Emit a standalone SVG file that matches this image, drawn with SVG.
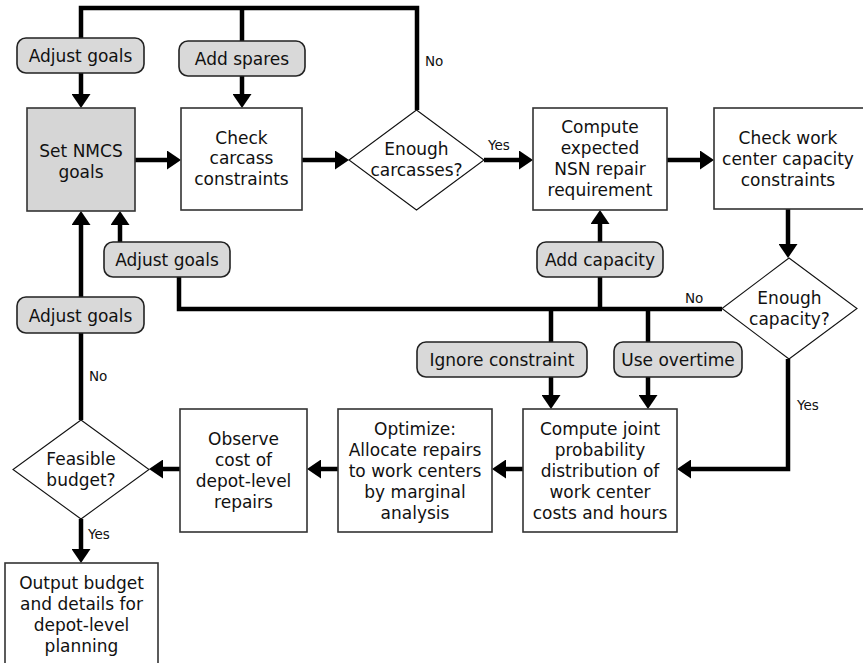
<svg xmlns="http://www.w3.org/2000/svg" width="863" height="663" viewBox="0 0 863 663">
  <style>
    text { font-family: "DejaVu Sans", "Open Sans", sans-serif; fill: #111; }
    .t { font-size: 17px; text-anchor: middle; }
    .lbl { font-size: 13.5px; }
    .box { fill: #ffffff; stroke: #333; stroke-width: 1.6; }
    .box.shade { fill: #d6d6d6; }
    .pill { fill: #d9d9d9; stroke: #222; stroke-width: 1.6; }
    .dia { fill: #ffffff; stroke: #111; stroke-width: 1.1; }
    .wire { fill: none; stroke: #000; stroke-width: 4.5; stroke-linejoin: miter; }
    .arrow { marker-end: url(#head); }
  </style>
  <defs>
    <marker id="head" markerUnits="userSpaceOnUse" markerWidth="15" markerHeight="19" refX="8" refY="9.5" orient="auto">
      <path d="M0,0 L14,9.5 L0,19 Z" fill="#000"/>
    </marker>
  </defs>

  <rect width="863" height="663" fill="#ffffff"/>

  <!-- connectors -->
  <g id="connectors">
    <path class="wire" d="M417,110 V8 H81 V38"/>
    <path class="wire" d="M242,8 V41"/>
    <path class="wire arrow" d="M81,73 V102"/>
    <path class="wire arrow" d="M242,76 V102"/>
    <path class="wire arrow" d="M135,160 H175"/>
    <path class="wire arrow" d="M302,160 H343"/>
    <path class="wire arrow" d="M484,160 H527"/>
    <path class="wire arrow" d="M667,160 H708"/>
    <path class="wire arrow" d="M788,209 V252"/>
    <path class="wire" d="M722,309 H179 V277"/>
    <path class="wire" d="M600,309 V277"/>
    <path class="wire" d="M551,309 V342"/>
    <path class="wire" d="M648,309 V342"/>
    <path class="wire arrow" d="M120,242 V217"/>
    <path class="wire arrow" d="M600,242 V216"/>
    <path class="wire arrow" d="M551,377 V403"/>
    <path class="wire arrow" d="M648,377 V403"/>
    <path class="wire arrow" d="M788,359 V469 H683"/>
    <path class="wire arrow" d="M523,469 H498"/>
    <path class="wire arrow" d="M338,469 H313"/>
    <path class="wire arrow" d="M180,469 H155"/>
    <path class="wire" d="M81,420 V333"/>
    <path class="wire arrow" d="M81,297 V217"/>
    <path class="wire arrow" d="M81,519 V557"/>
    <text class="lbl" x="425" y="66">No</text>
    <text class="lbl" x="488" y="150">Yes</text>
    <text class="lbl" x="685" y="303">No</text>
    <text class="lbl" x="797" y="410">Yes</text>
    <text class="lbl" x="89" y="381">No</text>
    <text class="lbl" x="88" y="539">Yes</text>
  </g>

  <!-- decision and action nodes -->
  <g id="adjust-goals-top">
    <rect class="pill" x="17" y="38" width="127" height="35" rx="9"/>
    <text class="t" x="80.5" y="62">Adjust goals</text>
  </g>
  <g id="add-spares">
    <rect class="pill" x="179" y="41" width="126" height="35" rx="9"/>
    <text class="t" x="242" y="65">Add spares</text>
  </g>
  <g id="set-nmcs-goals">
    <rect class="box shade" x="27" y="108" width="108" height="103"/>
    <text class="t" x="81" y="157">Set NMCS</text>
    <text class="t" x="81" y="178">goals</text>
  </g>
  <g id="check-carcass">
    <rect class="box" x="181" y="108" width="121" height="102"/>
    <text class="t" x="241.5" y="144">Check</text>
    <text class="t" x="241.5" y="164">carcass</text>
    <text class="t" x="241.5" y="184.5">constraints</text>
  </g>
  <g id="enough-carcasses">
    <polygon class="dia" points="416.5,110 484,160 416.5,210 349,160"/>
    <text class="t" x="416.5" y="155">Enough</text>
    <text class="t" x="416.5" y="176">carcasses?</text>
  </g>
  <g id="compute-expected">
    <rect class="box" x="533" y="108" width="134" height="102"/>
    <text class="t" x="600" y="133">Compute</text>
    <text class="t" x="600" y="154">expected</text>
    <text class="t" x="600" y="175">NSN repair</text>
    <text class="t" x="600" y="196">requirement</text>
  </g>
  <g id="check-work-center">
    <rect class="box" x="714" y="108" width="155" height="101"/>
    <text class="t" x="788" y="144">Check work</text>
    <text class="t" x="788" y="165">center capacity</text>
    <text class="t" x="788" y="186">constraints</text>
  </g>
  <g id="adjust-goals-mid">
    <rect class="pill" x="104" y="242" width="126" height="35" rx="9"/>
    <text class="t" x="167" y="266">Adjust goals</text>
  </g>
  <g id="add-capacity">
    <rect class="pill" x="537" y="242" width="126" height="35" rx="9"/>
    <text class="t" x="600" y="266">Add capacity</text>
  </g>
  <g id="enough-capacity">
    <polygon class="dia" points="789,258 857,308.5 789,359 722,308.5"/>
    <text class="t" x="789.5" y="304">Enough</text>
    <text class="t" x="789.5" y="325">capacity?</text>
  </g>
  <g id="adjust-goals-low">
    <rect class="pill" x="17" y="297" width="127" height="36" rx="9"/>
    <text class="t" x="80.5" y="321.5">Adjust goals</text>
  </g>
  <g id="ignore-constraint">
    <rect class="pill" x="417" y="342" width="170" height="35" rx="9"/>
    <text class="t" x="502" y="366">Ignore constraint</text>
  </g>
  <g id="use-overtime">
    <rect class="pill" x="614" y="342" width="128" height="35" rx="9"/>
    <text class="t" x="678" y="366">Use overtime</text>
  </g>
  <g id="compute-joint">
    <rect class="box" x="523" y="409" width="154" height="123"/>
    <text class="t" x="600" y="434.5">Compute joint</text>
    <text class="t" x="600" y="455.5">probability</text>
    <text class="t" x="600" y="476.5">distribution of</text>
    <text class="t" x="600" y="497.5">work center</text>
    <text class="t" x="600" y="518.5">costs and hours</text>
  </g>
  <g id="optimize">
    <rect class="box" x="338" y="409" width="154" height="123"/>
    <text class="t" x="415" y="434.5">Optimize:</text>
    <text class="t" x="415" y="455.5">Allocate repairs</text>
    <text class="t" x="415" y="476.5">to work centers</text>
    <text class="t" x="415" y="497.5">by marginal</text>
    <text class="t" x="415" y="518.5">analysis</text>
  </g>
  <g id="observe-cost">
    <rect class="box" x="180" y="409" width="127" height="123"/>
    <text class="t" x="243.5" y="445">Observe</text>
    <text class="t" x="243.5" y="466">cost of</text>
    <text class="t" x="243.5" y="487">depot-level</text>
    <text class="t" x="243.5" y="508">repairs</text>
  </g>
  <g id="feasible-budget">
    <polygon class="dia" points="81,420 149,469.5 81,519 13,469.5"/>
    <text class="t" x="81" y="464.5">Feasible</text>
    <text class="t" x="81" y="485.5">budget?</text>
  </g>
  <g id="output-budget">
    <rect class="box" x="5" y="563" width="153" height="110"/>
    <text class="t" x="81.5" y="588.5">Output budget</text>
    <text class="t" x="81.5" y="609.5">and details for</text>
    <text class="t" x="81.5" y="630.5">depot-level</text>
    <text class="t" x="81.5" y="651.5">planning</text>
  </g>
</svg>
